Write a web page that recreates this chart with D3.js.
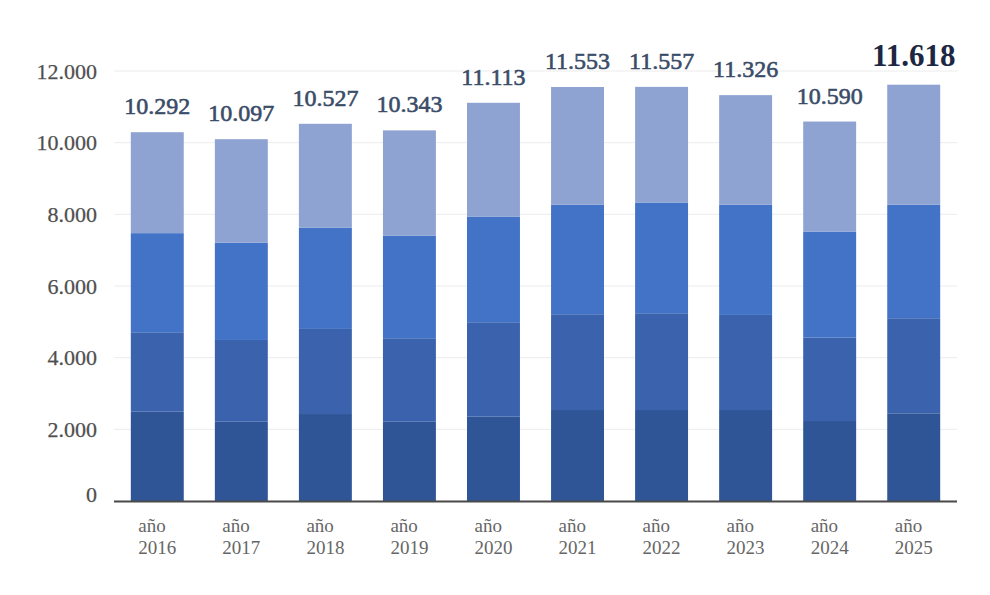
<!DOCTYPE html>
<html lang="es">
<head>
<meta charset="UTF-8">
<title>Evolución anual</title>
<script src="https://d3js.org/d3.v7.min.js"></script>
<style>
  body { margin: 0; background: #fff; }
  svg text { font-family: "Liberation Serif", "DejaVu Serif", serif; }
</style>
</head>
<body>
<svg width="990" height="595"></svg>
<script>
// data (4 stacked segments per year)
const years = ["2016", "2017", "2018", "2019", "2020", "2021", "2022", "2023", "2024", "2025"];
const seg1 = [2492, 2212, 2427, 2212, 2352, 2539, 2539, 2539, 2232, 2447];
const seg2 = [2217, 2282, 2375, 2330, 2637, 2673, 2701, 2654, 2327, 2654];
const seg3 = [2766, 2718, 2829, 2866, 2950, 3053, 3090, 3072, 2961, 3164];
const seg4 = [2817, 2885, 2896, 2935, 3174, 3288, 3227, 3061, 3070, 3353];
const totals = [10292, 10097, 10527, 10343, 11113, 11553, 11557, 11326, 10590, 11618];
const yTicks = [0, 2000, 4000, 6000, 8000, 10000, 12000];

const keys = ["seg1", "seg2", "seg3", "seg4"];
const colors = ["#2f5597", "#3b63ad", "#4373c6", "#8fa3d3"];

const rows = years.map((y, i) => ({
  year: y, seg1: seg1[i], seg2: seg2[i], seg3: seg3[i], seg4: seg4[i], total: totals[i]
}));

const svg = d3.select("svg");

const x = d3.scaleBand()
  .domain(years)
  .range([114, 957])
  .paddingInner(0.37)
  .paddingOuter(0.2);

const y = d3.scaleLinear()
  .domain([0, 12000])
  .range([501, 71]);

const fmt = d3.formatLocale({ decimal: ",", thousands: ".", grouping: [3], currency: ["", "€"] }).format(",d");

// gridlines
svg.append("g")
  .selectAll("line")
  .data(yTicks)
  .join("line")
  .attr("x1", 114)
  .attr("x2", 957)
  .attr("y1", d => y(d))
  .attr("y2", d => y(d))
  .attr("stroke", "#ececec")
  .attr("stroke-width", 1);

// y tick labels
svg.append("g")
  .selectAll("text")
  .data(yTicks)
  .join("text")
  .attr("x", 97)
  .attr("y", d => y(d))
  .attr("dy", d => d === 0 ? "0.05em" : "0.35em")
  .attr("text-anchor", "end")
  .attr("font-size", 22)
  .attr("fill", "#4f4f4f")
  .attr("stroke", "#4f4f4f")
  .attr("stroke-width", 0.25)
  .text(d => fmt(d));

// stacked bars
const series = d3.stack().keys(keys)(rows);

svg.append("g")
  .selectAll("g")
  .data(series)
  .join("g")
  .attr("fill", (d, i) => colors[i])
  .selectAll("rect")
  .data(d => d)
  .join("rect")
  .attr("x", d => x(d.data.year))
  .attr("y", d => y(d[1]))
  .attr("width", x.bandwidth())
  .attr("height", d => y(d[0]) - y(d[1]));

// baseline
svg.append("line")
  .attr("x1", 114)
  .attr("x2", 957)
  .attr("y1", y(0) + 0.5)
  .attr("y2", y(0) + 0.5)
  .attr("stroke", "#4a4a4a")
  .attr("stroke-width", 2);

// total labels (last one highlighted)
const last = rows.length - 1;
svg.append("g")
  .selectAll("text")
  .data(rows)
  .join("text")
  .attr("x", d => x(d.year) + x.bandwidth() / 2)
  .attr("y", (d, i) => y(d.total) - (i === last ? 19 : 18))
  .attr("text-anchor", "middle")
  .attr("font-size", (d, i) => i === last ? 31 : 24)
  .attr("font-weight", (d, i) => i === last ? "bold" : "normal")
  .attr("fill", (d, i) => i === last ? "#1d2742" : "#3a4c68")
  .attr("stroke", (d, i) => i === last ? "none" : "#3a4c68")
  .attr("stroke-width", 0.6)
  .text(d => fmt(d.total));

// x labels: "año" over the year, left aligned together
const xl = svg.append("g")
  .selectAll("text")
  .data(years)
  .join("text")
  .attr("font-size", 19)
  .attr("fill", "#666");

xl.append("tspan")
  .attr("class", "yr")
  .attr("y", 554)
  .text(d => d);

xl.each(function(d) {
  const t = d3.select(this);
  const w = t.select("tspan.yr").node().getComputedTextLength();
  const left = x(d) + x.bandwidth() / 2 - w / 2;
  t.select("tspan.yr").attr("x", left);
  t.insert("tspan", "tspan.yr")
    .attr("x", left)
    .attr("y", 532)
    .text("año");
});
</script>
</body>
</html>
